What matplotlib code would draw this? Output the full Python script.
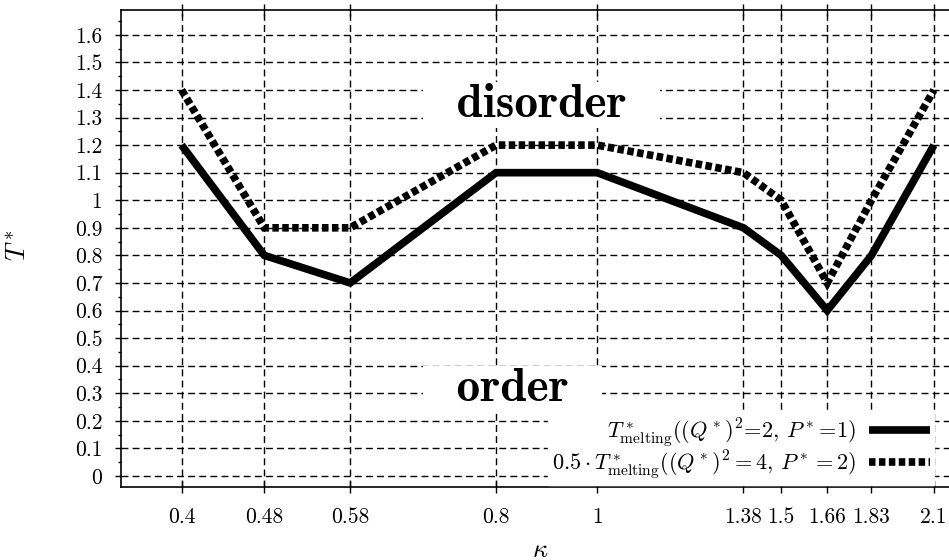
import matplotlib
matplotlib.use("Agg")
import matplotlib.pyplot as plt
from matplotlib.ticker import FixedLocator, FixedFormatter, NullLocator, MultipleLocator

plt.rcParams['font.family'] = ['cmr10', 'DejaVu Serif']
plt.rcParams['mathtext.fontset'] = 'cm'
plt.rcParams['axes.unicode_minus'] = False
plt.rcParams['axes.formatter.use_mathtext'] = True

kappa = [0.4, 0.48, 0.58, 0.8, 1.0, 1.38, 1.5, 1.66, 1.83, 2.1]
kappa_labels = ["0.4", "0.48", "0.58", "0.8", "1", "1.38", "1.5", "1.66", "1.83", "2.1"]
t_melt_q2 = [1.2, 0.8, 0.7, 1.1, 1.1, 0.9, 0.8, 0.6, 0.8, 1.2]
t_melt_q4_half = [1.4, 0.9, 0.9, 1.2, 1.2, 1.1, 1.0, 0.7, 1.0, 1.4]
y_ticks = [i / 10 for i in range(17)]
y_labels = ["0", "0.1", "0.2", "0.3", "0.4", "0.5", "0.6", "0.7", "0.8", "0.9",
            "1", "1.1", "1.2", "1.3", "1.4", "1.5", "1.6"]
label1 = r'$T^*_{\rm melting}((Q^*)^2\!=\!2,\,P^*\!=\!1)$'
label2 = r'$0.5\cdot T^*_{\rm melting}((Q^*)^2=4,\,P^*=2)$'

fig = plt.figure(figsize=(9.49, 5.6), dpi=100)
ax = fig.add_axes([121/949, 1-487/560, (955-121)/949, (487-10)/560])

ax.set_xscale('log')
ax.set_xlim(0.35, 2.2)
ax.set_ylim(-0.04, 1.69)

ax.plot(kappa, t_melt_q2, color='black', lw=5.5, solid_joinstyle='miter',
        solid_capstyle='butt', label=label1, zorder=3)
ax.plot(kappa, t_melt_q4_half, color='black', lw=5.5, linestyle=(0, (0.85, 0.45)),
        dash_capstyle='butt', dash_joinstyle='miter', label=label2, zorder=3)

ax.xaxis.set_major_locator(FixedLocator(kappa))
ax.xaxis.set_major_formatter(FixedFormatter(kappa_labels))
ax.xaxis.set_minor_locator(NullLocator())
ax.yaxis.set_major_locator(FixedLocator(y_ticks))
ax.yaxis.set_major_formatter(FixedFormatter(y_labels))
ax.yaxis.set_minor_locator(MultipleLocator(0.05))

ax.tick_params(axis='x', which='major', direction='inout', length=9, width=1.0,
               top=True, labelsize=15.5, pad=10)
ax.tick_params(axis='y', which='major', direction='out', length=4.5, width=1.0,
               labelsize=15.5, pad=9)
ax.tick_params(axis='y', which='minor', direction='out', length=2.2, width=1.0)

ax.grid(True, which='major', color='black', lw=1.0, linestyle=(0, (5, 3)), zorder=1)
ax.set_axisbelow(True)
for s in ax.spines.values():
    s.set_linewidth(1.2)

box = dict(boxstyle='square,pad=0.04', facecolor='white', edgecolor='none')
ax.text(0.885, 1.345, '  disorder  ', family='cmb10', fontsize=34, ha='center',
        va='center', bbox=box, zorder=2)
ax.text(0.83, 0.315, '  order  ', family='cmb10', fontsize=34, ha='center',
        va='center', bbox=box, zorder=2)

ax.set_xlabel(r'$\kappa$', fontsize=19)
ax.set_ylabel(r'$T^*$', fontsize=19)
ax.xaxis.set_label_coords((540-121)/834, (487-538)/477)
ax.yaxis.set_label_coords((30-121)/834, (487-245)/477)

leg = ax.legend(loc='lower right', bbox_to_anchor=(0.975, 0.004), markerfirst=False,
                fontsize=16, handlelength=2.75, handletextpad=0.55, labelspacing=-0.05,
                frameon=True, fancybox=False, framealpha=1, borderpad=0.2,
                borderaxespad=0)
leg.get_frame().set_edgecolor('white')
leg.get_frame().set_facecolor('white')
leg.set_zorder(5)

fig.savefig('out.png', dpi=100)
